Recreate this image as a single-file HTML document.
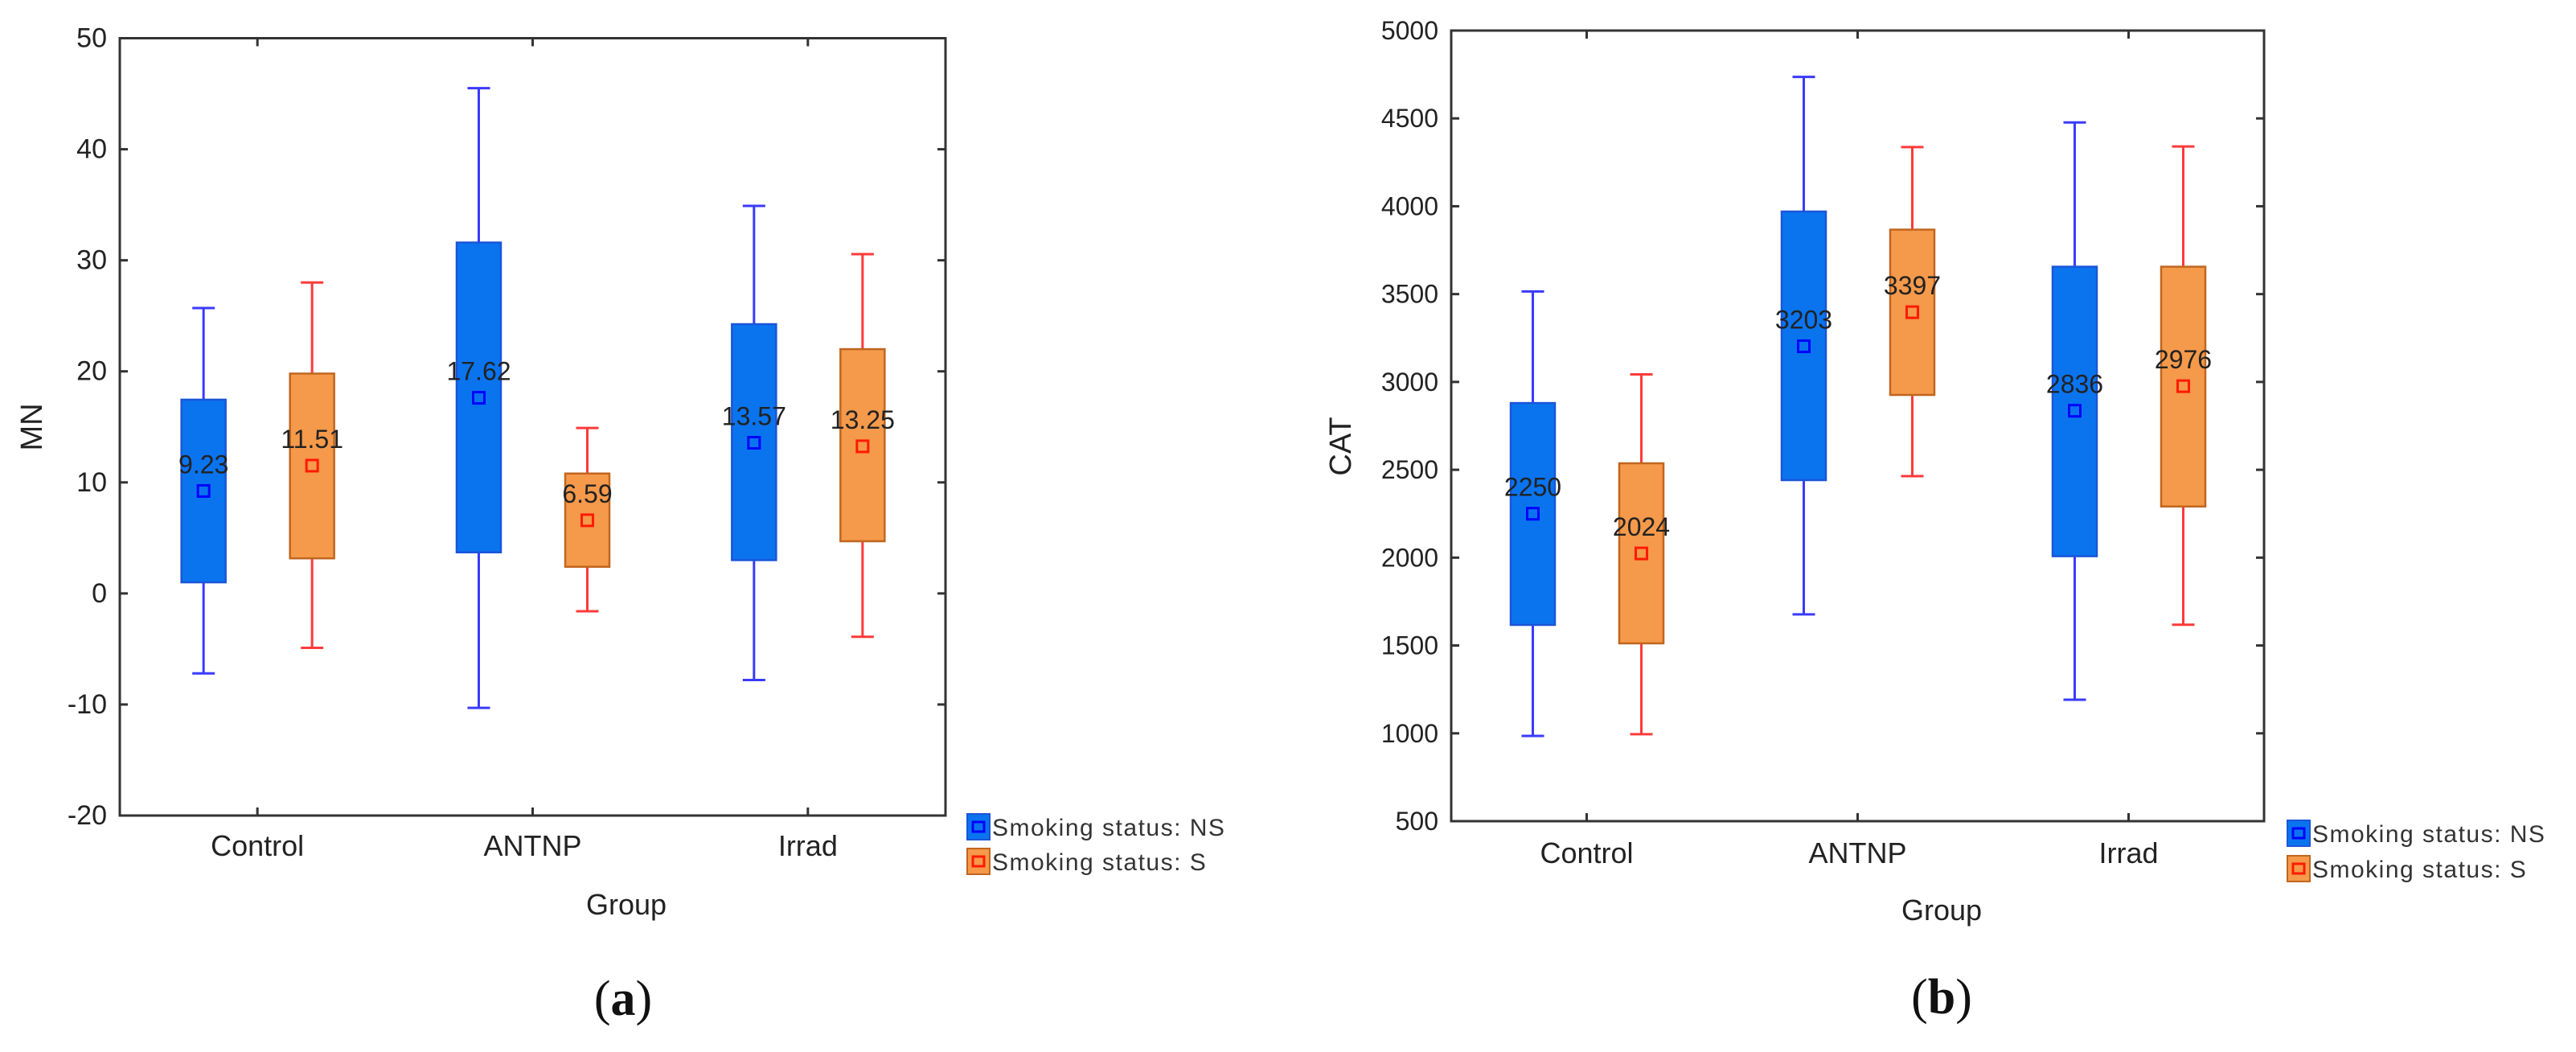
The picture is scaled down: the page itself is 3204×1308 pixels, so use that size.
<!DOCTYPE html>
<html><head><meta charset="utf-8"><style>
html,body{margin:0;padding:0;background:#fff;}
svg{display:block;font-family:"Liberation Sans",Arial,sans-serif;}
</style></head><body>
<svg id="fig" width="3204" height="1308" viewBox="0 0 3204 1308"></svg>
<script>
// ---- Panel (a) data: MN ----
const categories = ["Control","ANTNP","Irrad"];
const mnTicks = [50,40,30,20,10,0,-10,-20];
const mnNSMean = [9.23,17.62,13.57];
const mnNSBoxHi = [17.45,31.6,24.25];
const mnNSBoxLo = [1.0,3.7,3.0];
const mnNSWhiskHi = [25.7,45.5,34.9];
const mnNSWhiskLo = [-7.2,-10.3,-7.8];
const mnSMean = [11.51,6.59,13.25];
const mnSBoxHi = [19.8,10.8,22.0];
const mnSBoxLo = [3.16,2.4,4.7];
const mnSWhiskHi = [28.0,14.9,30.55];
const mnSWhiskLo = [-4.9,-1.6,-3.9];
const mnNSLabels = ["9.23","17.62","13.57"];
const mnSLabels = ["11.51","6.59","13.25"];
// ---- Panel (b) data: CAT ----
const catTicks = [5000,4500,4000,3500,3000,2500,2000,1500,1000,500];
const catNSMean = [2250,3203,2836];
const catNSBoxHi = [2880,3970,3656];
const catNSBoxLo = [1617,2441,2008];
const catNSWhiskHi = [3515,4736,4477];
const catNSWhiskLo = [985,1677,1191];
const catSMean = [2024,3397,2976];
const catSBoxHi = [2537,3867,3656];
const catSBoxLo = [1512,2926,2291];
const catSWhiskHi = [3043,4337,4340];
const catSWhiskLo = [995,2464,1618];
const catNSLabels = ["2250","3203","2836"];
const catSLabels = ["2024","3397","2976"];

const NS="http://www.w3.org/2000/svg";
const svg=document.getElementById('fig');
function mk(tag,attrs,parent,text){
  const e=document.createElementNS(NS,tag);
  for(const k in attrs) e.setAttribute(k,attrs[k]);
  if(text!==undefined) e.textContent=text;
  (parent||svg).appendChild(e);
  return e;
}

function panel(cfg){
  const g=mk('g',{});
  
  
  const L=cfg.left,R=cfg.right,T=cfg.top,B=cfg.bottom;
  const y=v=>T+(cfg.ymax-v)/(cfg.ymax-cfg.ymin)*(B-T);
  const x=i=>L+(R-L)*(2*i+1)/(2*categories.length);
  // frame
  const frame=mk('rect',{x:L,y:T,width:R-L,height:B-T,fill:'none',stroke:'#333',"stroke-width":3},g);
  
  
  // y ticks
  cfg.ticks.forEach(t=>{
    const yy=y(t);
    mk('line',{x1:L,x2:L+10,y1:yy,y2:yy,stroke:'#333',"stroke-width":3},g);
    mk('line',{x1:R-10,x2:R,y1:yy,y2:yy,stroke:'#333',"stroke-width":3},g);
    const tl=mk('text',{x:L-16,y:yy+11,"text-anchor":'end',"font-size":cfg.tickFont,fill:'#222'},g,String(t));
    
    
  });
  // x ticks and labels
  categories.forEach((c,i)=>{
    const xx=x(i);
    mk('line',{x1:xx,x2:xx,y1:B,y2:B-10,stroke:'#333',"stroke-width":3},g);
    mk('line',{x1:xx,x2:xx,y1:T,y2:T+10,stroke:'#333',"stroke-width":3},g);
    const cl=mk('text',{x:xx,y:cfg.catY,"text-anchor":'middle',"font-size":36,fill:'#222'},g,c);
    
    
  });
  const series=[
    {off:-67,mean:cfg.nsMean,hi:cfg.nsHi,lo:cfg.nsLo,wh:cfg.nsWH,wl:cfg.nsWL,lab:cfg.nsLab,fill:'#0a74ef',edge:'#1a55d8',wc:'#3a3aff',mc:'#0000ff',nm:'ns'},
    {off:68,mean:cfg.sMean,hi:cfg.sHi,lo:cfg.sLo,wh:cfg.sWH,wl:cfg.sWL,lab:cfg.sLab,fill:'#f5994a',edge:'#c0661f',wc:'#ff3a3a',mc:'#ff1a00',nm:'s'}
  ];
  series.forEach(s=>{
    categories.forEach((c,i)=>{
      const cx=x(i)+s.off;
      const w1=mk('line',{x1:cx,x2:cx,y1:y(s.wh[i]),y2:y(s.hi[i]),stroke:s.wc,"stroke-width":3},g);
      
      
      const w2=mk('line',{x1:cx,x2:cx,y1:y(s.lo[i]),y2:y(s.wl[i]),stroke:s.wc,"stroke-width":3},g);
      
      
      mk('line',{x1:cx-14,x2:cx+14,y1:y(s.wh[i]),y2:y(s.wh[i]),stroke:s.wc,"stroke-width":3},g);
      mk('line',{x1:cx-14,x2:cx+14,y1:y(s.wl[i]),y2:y(s.wl[i]),stroke:s.wc,"stroke-width":3},g);
      const bx=mk('rect',{x:cx-27.5,y:y(s.hi[i]),width:55,height:y(s.lo[i])-y(s.hi[i]),fill:s.fill,stroke:s.edge,"stroke-width":2.5},g);
      
      
      const my=y(s.mean[i]);
      const mm=mk('rect',{x:cx-7,y:my-7,width:14,height:14,fill:'none',stroke:s.mc,"stroke-width":3},g);
      
      
      const ml=mk('text',{x:cx,y:my-22,"text-anchor":'middle',"font-size":32,fill:'#222'},g,s.lab[i]);
      
      
    });
  });
  // axis titles
  const yt=mk('text',{x:0,y:0,"text-anchor":'middle',"font-size":38,fill:'#222',transform:`translate(${cfg.ytX},${cfg.ytY}) rotate(-90)`},g,cfg.ytitle);
  
  
  const xt=mk('text',{x:cfg.xtX,y:cfg.xtY,"text-anchor":'middle',"font-size":36,fill:'#222'},g,'Group');
  
  
  // legend
  [['Smoking status: NS','#0a74ef','#1a55d8','#0000ff',cfg.legY1],['Smoking status: S','#f5994a','#c0661f','#ff1a00',cfg.legY2]].forEach(l=>{
    const lg=mk('g',{},g);
    
    
    mk('rect',{x:cfg.legX,y:l[4],width:28,height:32,fill:l[1],stroke:l[2],"stroke-width":2},lg);
    mk('rect',{x:cfg.legX+7,y:l[4]+10,width:14,height:12,fill:'none',stroke:l[3],"stroke-width":3},lg);
    mk('text',{x:cfg.legX+31,y:l[4]+27,"font-size":30,fill:'#333',"letter-spacing":1.5},lg,l[0]);
  });
  // panel letter
  const pl=mk('text',{x:cfg.capX,y:cfg.capY,"text-anchor":'middle',"font-size":62,fill:'#111',"font-family":'"Liberation Serif",serif'},g);
  
  
  mk('tspan',{},pl,'(');
  mk('tspan',{"font-weight":'bold'},pl,cfg.letter);
  mk('tspan',{},pl,')');
}

panel({name:'panel-a-mn',left:149,right:1176,top:47.5,bottom:1014,ymax:50,ymin:-20,ticks:mnTicks,tickFont:34,catY:1064,
  nsMean:mnNSMean,nsHi:mnNSBoxHi,nsLo:mnNSBoxLo,nsWH:mnNSWhiskHi,nsWL:mnNSWhiskLo,nsLab:mnNSLabels,
  sMean:mnSMean,sHi:mnSBoxHi,sLo:mnSBoxLo,sWH:mnSWhiskHi,sWL:mnSWhiskLo,sLab:mnSLabels,
  ytitle:'MN',ytX:52,ytY:531,xtX:779,xtY:1137,legX:1203,legY1:1012,legY2:1055,capX:775,capY:1262,letter:'a'});
panel({name:'panel-b-cat',left:1805,right:2816,top:38,bottom:1021,ymax:5000,ymin:500,ticks:catTicks,tickFont:32,catY:1073,
  nsMean:catNSMean,nsHi:catNSBoxHi,nsLo:catNSBoxLo,nsWH:catNSWhiskHi,nsWL:catNSWhiskLo,nsLab:catNSLabels,
  sMean:catSMean,sHi:catSBoxHi,sLo:catSBoxLo,sWH:catSWhiskHi,sWL:catSWhiskLo,sLab:catSLabels,
  ytitle:'CAT',ytX:1680,ytY:555,xtX:2415,xtY:1144,legX:2845,legY1:1020,legY2:1064,capX:2415,capY:1260,letter:'b'});
</script>
</body></html>
